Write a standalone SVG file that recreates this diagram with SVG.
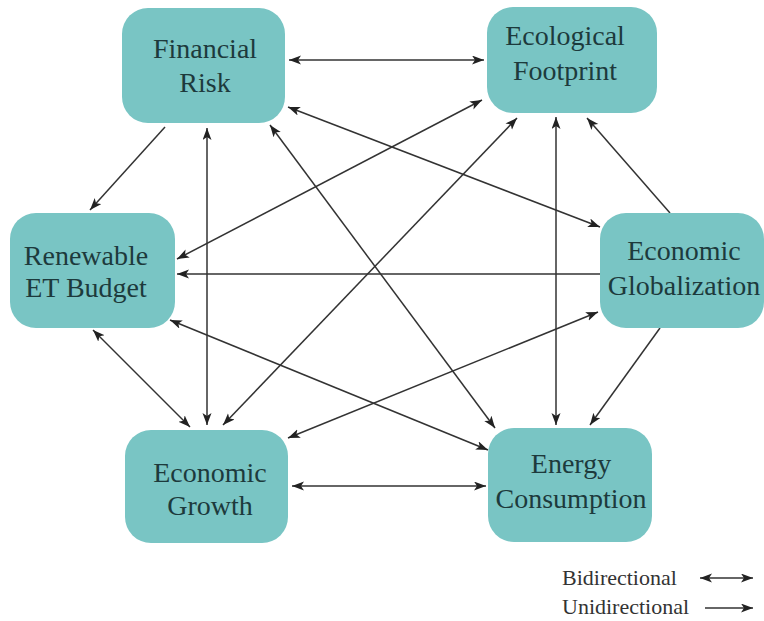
<svg xmlns="http://www.w3.org/2000/svg" width="764" height="621" viewBox="0 0 764 621">
<defs>
<marker id="ah" markerUnits="userSpaceOnUse" markerWidth="12" markerHeight="10" refX="12" refY="4.5" orient="auto-start-reverse">
<path d="M0,0 L12,4.5 L0,9 L3,4.5 z" fill="#222"/>
</marker>
<style>
.box{fill:#79c5c4;}
.lbl{font-family:'Liberation Serif',Tinos,'Times New Roman',Times,'Nimbus Roman',FreeSerif,'DejaVu Serif',serif;font-size:28px;fill:#1d3a3c;text-anchor:middle;}
.leg{font-family:'Liberation Serif',Tinos,'Times New Roman',Times,'Nimbus Roman',FreeSerif,'DejaVu Serif',serif;font-size:22px;fill:#333;}
.c{stroke:#333;stroke-width:1.5;fill:none;}
.b{marker-start:url(#ah);marker-end:url(#ah);}
.u{marker-end:url(#ah);}
</style>
</defs>
<rect width="764" height="621" fill="#fff"/>
<g id="connectors">
<line class="c b" x1="289" y1="60" x2="484" y2="60"/>
<line class="c u" x1="165" y1="127" x2="90" y2="210"/>
<line class="c b" x1="207" y1="128" x2="207" y2="425"/>
<line class="c b" x1="270" y1="125" x2="495" y2="428"/>
<line class="c b" x1="288" y1="107" x2="600" y2="227"/>
<line class="c b" x1="482" y1="100" x2="177" y2="259"/>
<line class="c b" x1="517" y1="118" x2="223" y2="425"/>
<line class="c b" x1="556" y1="117" x2="556" y2="425"/>
<line class="c u" x1="670" y1="213" x2="587" y2="118"/>
<line class="c u" x1="600" y1="274" x2="177" y2="274"/>
<line class="c b" x1="598" y1="312" x2="288" y2="438"/>
<line class="c u" x1="660" y1="328" x2="590" y2="425"/>
<line class="c b" x1="93" y1="330" x2="190" y2="427"/>
<line class="c b" x1="170" y1="320" x2="488" y2="450"/>
<line class="c b" x1="292" y1="486" x2="486" y2="486"/>
</g>
<g id="financial-risk">
<rect class="box" x="122" y="8" width="163" height="115" rx="26"/>
<text class="lbl" x="205" y="58">Financial</text>
<text class="lbl" x="205" y="92">Risk</text>
</g>
<g id="ecological-footprint">
<rect class="box" x="487" y="7" width="170" height="106" rx="26"/>
<text class="lbl" x="565" y="45">Ecological</text>
<text class="lbl" x="565" y="80">Footprint</text>
</g>
<g id="renewable-et-budget">
<rect class="box" x="10" y="213" width="165" height="115" rx="26"/>
<text class="lbl" x="86" y="265">Renewable</text>
<text class="lbl" x="86" y="297">ET Budget</text>
</g>
<g id="economic-globalization">
<rect class="box" x="600" y="213" width="164" height="115" rx="26"/>
<text class="lbl" x="684" y="260">Economic</text>
<text class="lbl" x="684" y="295">Globalization</text>
</g>
<g id="economic-growth">
<rect class="box" x="125" y="430" width="163" height="113" rx="26"/>
<text class="lbl" x="210" y="482">Economic</text>
<text class="lbl" x="210" y="515">Growth</text>
</g>
<g id="energy-consumption">
<rect class="box" x="488" y="428" width="164" height="114" rx="26"/>
<text class="lbl" x="571" y="473">Energy</text>
<text class="lbl" x="571" y="508">Consumption</text>
</g>
<g id="legend">
<text class="leg" x="562" y="585">Bidirectional</text>
<line class="c b" x1="700" y1="578" x2="753" y2="578"/>
<text class="leg" x="562" y="614">Unidirectional</text>
<line class="c u" x1="705" y1="608" x2="753" y2="608"/>
</g>
</svg>
